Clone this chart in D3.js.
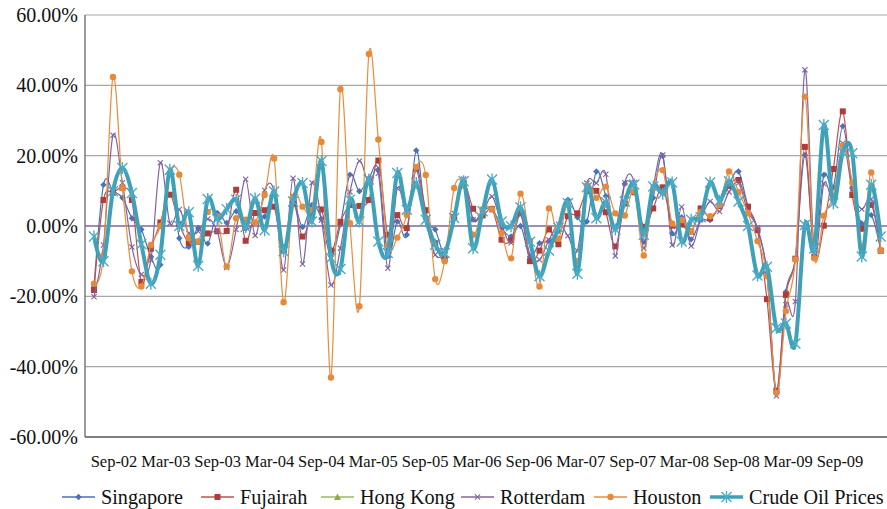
<!DOCTYPE html>
<html lang="en">
<head>
<meta charset="utf-8">
<script src="https://cdn.jsdelivr.net/npm/d3@7"></script>
<style>
  body { margin: 0; background: #fff; }
  svg { display: block; }
</style>
</head>
<body>
<svg id="chart" width="887" height="509"></svg>
<script>
// monthly % changes, 84 observations
var periods = d3.range(84);

var singapore = [-17.3, 11.7, 10, 8, 2.2, -1, -8.7, -11, 15, -3.5, -5.9, -0.6, -5, 3.7, 0.9, 4.2, -0.8, 1, 2.7, 8.9,
  -6, 6.5, -0.3, 6, 2, -8.6, 0.5, 14.6, 9.9, 13.6, 16, -8.6, 1.3, -2.5, 21.5, 2, -1, -7.7, 2, 12.7,
  1.8, 4.2, 5, -0.5, -3, 0, -8.7, -4.9, -4.3, -1.5, 7.5, 2.5, 1.3, 15.5, 8.5, -0.5, 12, 10, -4.5, 8,
  19.9, -2.1, 2.5, -3.8, 1.7, 1.7, 6, 11.7, 15.5, 5.5, -1.1, -13.4, -47.6, -18.7, -9.2, 20.2, -6.4, 14.5, 11, 28.4,
  10.7, 0.7, 3.1, -6.8];
var fujairah = [-18.2, 7.4, 9.5, 10.8, 7.4, -15.9, -6.5, 1, 8.9, 0.5, -4.8, -4.5, -2.1, -1.5, -1.4, 10.3, -4.2, 3.7, 4.5, 5.5,
  -7, 6.4, -3, 3.6, 4.7, -7, 1.2, 6, 5.7, 7.4, 18.6, -2.5, 3.1, -0.6, 16.3, 4.5, -4.9, -9.4, 2.6, 12.1,
  4.9, 3, 4.8, -3.9, -4, 3.6, -10, -7, -1, -5.2, 2.8, 3.6, 9.9, 10, 3.9, -5.8, 6.4, 9.6, -0.2, 5,
  11, 0.1, 0.4, -1.6, 5, 2.2, 5.7, 11.4, 13.1, 5.5, -1.2, -20.8, -46.8, -19.6, -9.3, 22.5, -8.8, 0.1, 16.2, 32.6,
  8.8, -0.8, 6, -7];
var hongKong = []; // legend entry only, no line shows in the chart
var rotterdam = [-20.1, -5.4, 25.8, 12.3, -6, -13.8, -9.7, 18, 0.8, 4.7, -2.1, -1.5, 2, -1.5, -11.8, -1, 13.3, -2.7, 10.2, 9.8,
  -12.5, 13.6, -10.8, 12.3, 1.7, -16.8, -6.3, 9.7, 18.5, 12.2, 15, -12, 10.7, 3.9, 15.9, 1.7, -8.2, -7, 3.6, 13.4,
  1.8, 3.7, 8.4, 0.4, -4.8, 3.2, -8.2, -9.6, -4, 0.5, -2.8, -7, 12.2, 12.2, 14.7, -8.5, 12.3, 12.4, -6.3, 11,
  20.2, -5.4, 5.4, -5.7, 1.8, 7, 4.1, 9.7, 12.2, 4, -0.5, -13.5, -48.3, -22.4, -21.5, 44.4, -7.7, 12, 8, 23.5,
  10.5, 4.8, 7.7, -7.2];
var houston = [-16.4, -8.3, 42.4, 10.8, -12.9, -17.2, -5.4, 0, 15, 14.6, -3.5, -4.4, 4, 2.8, -11.5, 2.2, 1.8, 1, 8.8, 19.2,
  -21.7, 8.3, 5.5, 4.5, 23.9, -43.1, 38.9, 0.8, -22.8, 48.9, 24.6, -5.4, -3.3, 3.1, 16.8, 14.5, -15.1, -10, 10.8, 11.5,
  -2.5, 4.8, 4.7, -2, -9.2, 9.2, -4.2, -17.2, 5, -3.6, 6, -10, 11.5, 8, 11.2, 3.6, 3, 9.9, -8.4, 10.7,
  15.9, 0.7, 1.7, -1.5, 4, 2.8, 6, 15.5, 9.7, 3.6, -4.3, -14.2, -47.5, -24.2, -9.5, 36.8, -9.2, 2.9, 8.4, 22.9,
  12.4, -5.9, 15.2, -7];
var crudeOil = [-3, -10, 9.9, 16.5, 9.4, -5.2, -16.4, -8.2, 16, 0, 3.9, -11.3, 7.7, 2, 4.8, 7.5, -0.3, 7.8, -1.2, 9.8,
  -7.2, 7, 12.2, 1.3, 18.5, -9.1, -12.2, 7.5, 1.3, 13.2, -4.4, -7.7, 15.1, 4.6, 12.2, 1.8, -5.3, -7.7, 2.3, 12.7,
  -6.3, 4.2, 13.2, 1.3, -0.1, 5.3, -4.5, -14.3, -7, -0.5, 6.5, -13.6, 11, 2.2, 6.8, -1, 7, 11.8, -2.5, 11.2,
  9.2, 12.4, -4.4, 1.8, 2.5, 12.4, 7.2, 12.7, 7, 0, -14.1, -11.6, -29, -27.7, -33.4, 0.3, -6.4, 28.7, 6.5, 21,
  20.7, -8.7, 11.7, -3];

var tickLabels = ["Sep-02", "Mar-03", "Sep-03", "Mar-04", "Sep-04", "Mar-05", "Sep-05", "Mar-06",
  "Sep-06", "Mar-07", "Sep-07", "Mar-08", "Sep-08", "Mar-09", "Sep-09"];
var yTicks = [60, 40, 20, 0, -20, -40, -60];

(function () {
  var FONT = "'Times New Roman', 'Liberation Serif', Tinos, 'DejaVu Serif', serif";
  var series = [
    { name: "Singapore", values: singapore, color: "#4a72b8", fill: "#4a72b8", marker: "diamond", width: 1.2 },
    { name: "Fujairah", values: fujairah, color: "#c0504d", fill: "#b03c3a", marker: "square", width: 1.2 },
    { name: "Hong Kong", values: hongKong, color: "#9bbb59", fill: "#8aab48", marker: "triangle", width: 1.2 },
    { name: "Rotterdam", values: rotterdam, color: "#8064a2", fill: "#8064a2", marker: "x", width: 1.2 },
    { name: "Houston", values: houston, color: "#e98c3c", fill: "#e8893a", marker: "circle", width: 1.2 },
    { name: "Crude Oil Prices", values: crudeOil, color: "#3fa1b8", fill: "#4bacc6", marker: "star", width: 4 }
  ];
  // legend entry left edges
  var legendX = [62, 201, 321, 461, 594, 710];

  var svg = d3.select("#chart");
  var pLeft = 85, pRight = 887, pTop = 15, pBottom = 437;

  var x = d3.scalePoint().domain(periods).range([94, 880.7]);
  var y = d3.scaleLinear().domain([-60, 60]).range([pBottom, pTop]);
  var xLab = d3.scalePoint().domain(tickLabels).range([114, 840]);

  // gridlines
  svg.append("g").selectAll("line")
    .data(yTicks.filter(function (d) { return d !== 0 && d !== -60; }))
    .enter().append("line")
    .attr("x1", pLeft).attr("x2", pRight)
    .attr("y1", function (d) { return y(d); }).attr("y2", function (d) { return y(d); })
    .attr("stroke", "#a8a8a8").attr("stroke-width", 1.2);

  // axis lines
  svg.append("line").attr("x1", pLeft).attr("x2", pRight).attr("y1", y(-60)).attr("y2", y(-60))
    .attr("stroke", "#555").attr("stroke-width", 1.3);
  svg.append("line").attr("x1", pLeft).attr("x2", pLeft).attr("y1", pTop).attr("y2", pBottom)
    .attr("stroke", "#666").attr("stroke-width", 1.3);

  // y labels
  var yAxis = d3.axisLeft(y).tickValues(yTicks).tickSize(0).tickPadding(7)
    .tickFormat(function (d) { return (d < 0 ? "-" : "") + Math.abs(d).toFixed(2) + "%"; });
  svg.append("g").attr("transform", "translate(" + pLeft + ",0)").call(yAxis)
    .attr("font-family", null)
    .call(function (g) { g.select(".domain").remove(); })
    .selectAll("text").style("font-family", FONT).attr("font-size", 20).attr("fill", "#111");

  // x labels
  svg.append("g").selectAll("text").data(tickLabels).enter().append("text")
    .attr("x", function (d) { return xLab(d); }).attr("y", 467)
    .attr("text-anchor", "middle").style("font-family", FONT).attr("font-size", 16.5).attr("fill", "#111")
    .text(function (d) { return d; });

  // zero line
  svg.append("line").attr("x1", pLeft).attr("x2", pRight).attr("y1", y(0)).attr("y2", y(0))
    .attr("stroke", "#8064a2").attr("stroke-width", 1.3);

  function drawMarker(g, type, cx, cy, s) {
    if (type === "diamond") {
      g.append("path").attr("d", "M" + cx + "," + (cy - 3.2) + "L" + (cx + 3.2) + "," + cy + "L" + cx + "," + (cy + 3.2) + "L" + (cx - 3.2) + "," + cy + "Z")
        .attr("fill", s.fill);
    } else if (type === "square") {
      g.append("rect").attr("x", cx - 3).attr("y", cy - 3).attr("width", 6).attr("height", 6).attr("fill", s.fill);
    } else if (type === "triangle") {
      g.append("path").attr("d", "M" + cx + "," + (cy - 3.5) + "L" + (cx + 3.5) + "," + (cy + 3) + "L" + (cx - 3.5) + "," + (cy + 3) + "Z")
        .attr("fill", s.fill);
    } else if (type === "x") {
      g.append("path").attr("d", "M" + (cx - 2.6) + "," + (cy - 2.6) + "L" + (cx + 2.6) + "," + (cy + 2.6) + "M" + (cx - 2.6) + "," + (cy + 2.6) + "L" + (cx + 2.6) + "," + (cy - 2.6))
        .attr("stroke", s.fill).attr("stroke-width", 1.1);
    } else if (type === "circle") {
      g.append("circle").attr("cx", cx).attr("cy", cy).attr("r", 3.2).attr("fill", s.fill);
    } else if (type === "star") {
      var r = 5;
      g.append("path").attr("d",
        "M" + (cx - r) + "," + (cy - r) + "L" + (cx + r) + "," + (cy + r) +
        "M" + (cx - r) + "," + (cy + r) + "L" + (cx + r) + "," + (cy - r) +
        "M" + cx + "," + (cy - r - 1) + "L" + cx + "," + (cy + r + 1))
        .attr("stroke", s.fill).attr("stroke-width", 1.4);
    }
  }

  var line = d3.line()
    .x(function (d, i) { return x(periods[i]); })
    .y(function (d) { return y(d); })
    .curve(d3.curveCardinal.tension(0));

  series.forEach(function (s) {
    if (!s.values.length) return;
    var g = svg.append("g");
    g.append("path").datum(s.values).attr("d", line)
      .attr("fill", "none").attr("stroke", s.color).attr("stroke-width", s.width)
      .attr("stroke-linejoin", "round");
    s.values.forEach(function (v, i) { drawMarker(g, s.marker, x(periods[i]), y(v), s); });
  });

  // legend
  var lg = svg.append("g");
  var ly = 497;
  series.forEach(function (s, k) {
    var lx = legendX[k];
    lg.append("line").attr("x1", lx).attr("x2", lx + 33).attr("y1", ly).attr("y2", ly)
      .attr("stroke", s.color).attr("stroke-width", s.width === 4 ? 3.5 : 1.5);
    drawMarker(lg, s.marker, lx + 16.5, ly, s);
    lg.append("text").attr("x", lx + 39).attr("y", ly + 6.5)
      .style("font-family", FONT).attr("font-size", 20.2).attr("fill", "#111").text(s.name);
  });
})();
</script>
</body>
</html>
